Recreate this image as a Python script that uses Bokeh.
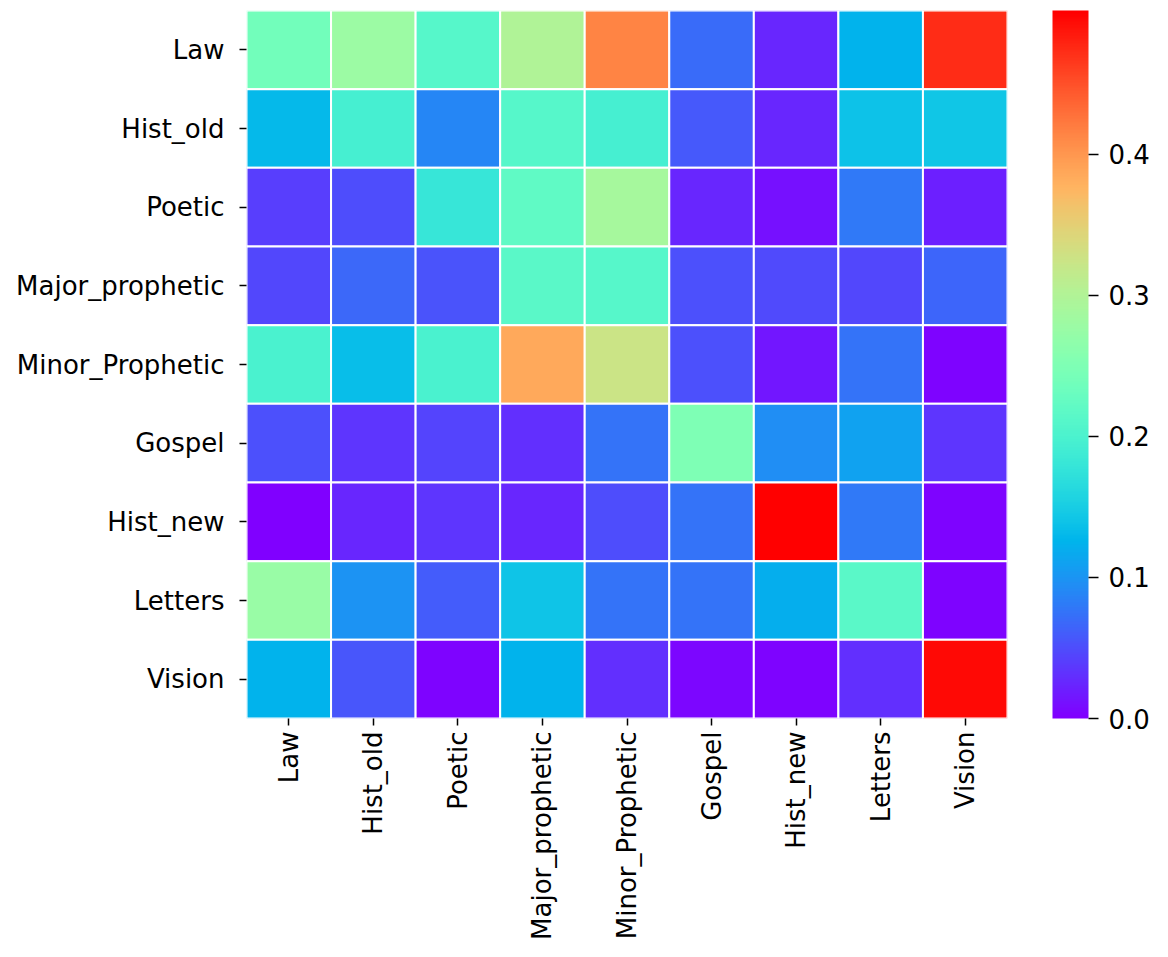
import math
from bokeh.plotting import figure
from bokeh.models import LinearColorMapper, ColorBar, FixedTicker, ColumnDataSource, PrintfTickFormatter
from bokeh.embed import file_html
from bokeh.resources import INLINE

categories = ["Law", "Hist_old", "Poetic", "Major_prophetic", "Minor_Prophetic",
              "Gospel", "Hist_new", "Letters", "Vision"]

row_law = [0.238, 0.280, 0.210, 0.300, 0.415, 0.070, 0.025, 0.125, 0.474]
row_hist_old = [0.130, 0.195, 0.089, 0.210, 0.195, 0.058, 0.025, 0.138, 0.143]
row_poetic = [0.040, 0.050, 0.180, 0.220, 0.290, 0.025, 0.010, 0.080, 0.020]
row_major_prophetic = [0.047, 0.068, 0.053, 0.215, 0.210, 0.052, 0.048, 0.046, 0.066]
row_minor_prophetic = [0.200, 0.135, 0.200, 0.385, 0.325, 0.052, 0.015, 0.075, 0.002]
row_gospel = [0.052, 0.035, 0.045, 0.030, 0.075, 0.250, 0.095, 0.110, 0.035]
row_hist_new = [0.000, 0.025, 0.035, 0.025, 0.050, 0.075, 0.502, 0.080, 0.002]
row_letters = [0.276, 0.100, 0.060, 0.140, 0.075, 0.075, 0.120, 0.215, 0.002]
row_vision = [0.125, 0.055, 0.003, 0.125, 0.030, 0.005, 0.003, 0.030, 0.495]

rows = [row_law, row_hist_old, row_poetic, row_major_prophetic, row_minor_prophetic,
        row_gospel, row_hist_new, row_letters, row_vision]

colorbar_ticks = [0.0, 0.1, 0.2, 0.3, 0.4]

# matplotlib "rainbow" colormap
def rainbow(t):
    r = min(1.0, abs(2 * t - 0.5))
    g = math.sin(math.pi * t)
    b = math.cos(math.pi * t / 2)
    return "#%02x%02x%02x" % tuple(int(round(max(0, min(1, c)) * 255)) for c in (r, g, b))

palette = [rainbow(i / 255) for i in range(256)]

xs, ys, vals = [], [], []
for rname, row in zip(categories, rows):
    for cname, v in zip(categories, row):
        xs.append(cname)
        ys.append(rname)
        vals.append(v)

vmax = max(vals)
mapper = LinearColorMapper(palette=palette, low=0.0, high=vmax)
src = ColumnDataSource(dict(x=xs, y=ys, v=vals))

FONT = "DejaVu Sans"
FS = "26px"

p = figure(x_range=categories, y_range=list(reversed(categories)),
           frame_width=761, frame_height=708,
           min_border_left=246, min_border_top=10, min_border_right=150, min_border_bottom=221,
           output_backend="svg", toolbar_location=None, tools="")

p.rect(x="x", y="y", width=1, height=1, source=src,
       fill_color={"field": "v", "transform": mapper},
       line_color="white", line_width=2)

p.grid.visible = False
p.outline_line_color = None
for ax in (p.xaxis[0], p.yaxis[0]):
    ax.axis_line_color = None
    ax.major_tick_in = 0
    ax.major_tick_out = 7
    ax.major_tick_line_width = 1.5
    ax.major_tick_line_color = "black"
    ax.major_label_text_font = FONT
    ax.major_label_text_font_size = FS
    ax.major_label_text_color = "black"
    ax.major_label_standoff = 6
p.yaxis.major_label_standoff = 15
p.xaxis.major_label_orientation = math.pi / 2

cb = ColorBar(color_mapper=mapper, ticker=FixedTicker(ticks=colorbar_ticks),
              formatter=PrintfTickFormatter(format="%.1f"),
              width=36, height=708, padding=0, margin=0,
              location=(45, 0),
              major_label_text_font=FONT, major_label_text_font_size=FS,
              major_label_text_color="black",
              major_tick_in=0, major_tick_out=10, major_tick_line_color="black",
              major_tick_line_width=1.5, label_standoff=10,
              bar_line_color=None, border_line_color=None,
              background_fill_alpha=0)
p.add_layout(cb, "right")

open("out.html", "w").write(file_html(p, INLINE))
